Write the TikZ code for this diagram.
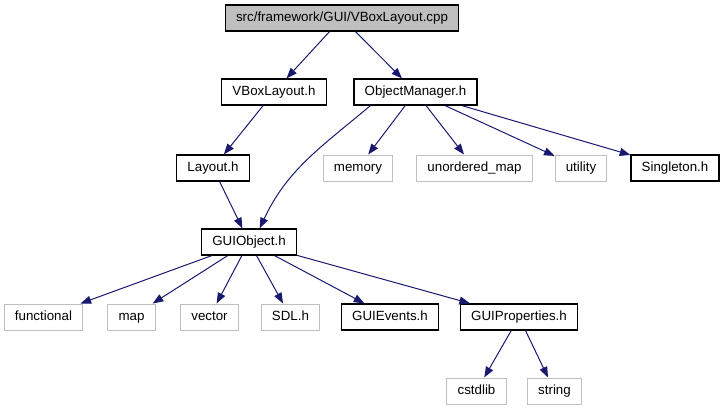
\documentclass[tikz,border=0pt]{standalone}
\usepackage{fontspec}
\setmainfont{Liberation Sans}
\usetikzlibrary{arrows.meta}
\definecolor{edgeblue}{RGB}{25,25,112}
\definecolor{sysgray}{RGB}{191,191,191}
\definecolor{srcfill}{RGB}{191,191,191}

\begin{document}
\begin{tikzpicture}[x=0.75pt,y=-0.75pt,
  hdr/.style={draw=black,line width=0.9pt,fill=white,
              inner xsep=8pt,inner ysep=0pt,minimum height=19.5pt,
              text height=7.4pt,text depth=2.1pt,
              font=\fontsize{10}{12}\selectfont},
  sys/.style={hdr,draw=sysgray,line width=0.75pt},
  src/.style={hdr,fill=srcfill},
  arrow/.style={-{Triangle[length=8pt,width=6pt]},line width=0.75pt,color=edgeblue}]
\useasboundingbox (0,0) rectangle (723,411);
\node[src](cpp)    at (342,18)    {src/framework/GUI/VBoxLayout.cpp};
\node[hdr](vbox)   at (274,92)    {VBoxLayout.h};
\node[hdr](objmgr) at (415.5,92)  {ObjectManager.h};
\node[hdr](layout) at (213,168)   {Layout.h};
\node[sys](mem)    at (358,168)   {memory};
\node[sys](umap)   at (474.5,168) {unordered\_map};
\node[sys](util)   at (581,168)   {utility};
\node[hdr](single) at (675,168)   {Singleton.h};
\node[hdr](guiobj) at (249,242)   {GUIObject.h};
\node[sys](func)   at (43.5,317)  {functional};
\node[sys](map)    at (131.5,317) {map};
\node[sys](vec)    at (209.5,317) {vector};
\node[sys](sdl)    at (290.5,317) {SDL.h};
\node[hdr](events) at (390,317)   {GUIEvents.h};
\node[hdr](props)  at (519,317)   {GUIProperties.h};
\node[sys](cstd)   at (476.5,391) {cstdlib};
\node[sys](str)    at (554.5,391) {string};
\draw[arrow](cpp)--(vbox);
\draw[arrow](cpp)--(objmgr);
\draw[arrow](vbox)--(layout);
\draw[arrow](layout)--(guiobj);
\draw[arrow]([xshift=12.75pt]objmgr.south west) to[out=-140,in=65] ([xshift=8pt]guiobj.north);
\draw[arrow](objmgr)--(mem);
\draw[arrow](objmgr)--(umap);
\draw[arrow](objmgr)--(util);
\draw[arrow](objmgr)--(single);
\draw[arrow](guiobj)--(func);
\draw[arrow](guiobj)--(map);
\draw[arrow](guiobj)--(vec);
\draw[arrow](guiobj)--(sdl);
\draw[arrow](guiobj)--(events);
\draw[arrow](guiobj)--(props);
\draw[arrow](props)--(cstd);
\draw[arrow](props)--(str);
\end{tikzpicture}
\end{document}
